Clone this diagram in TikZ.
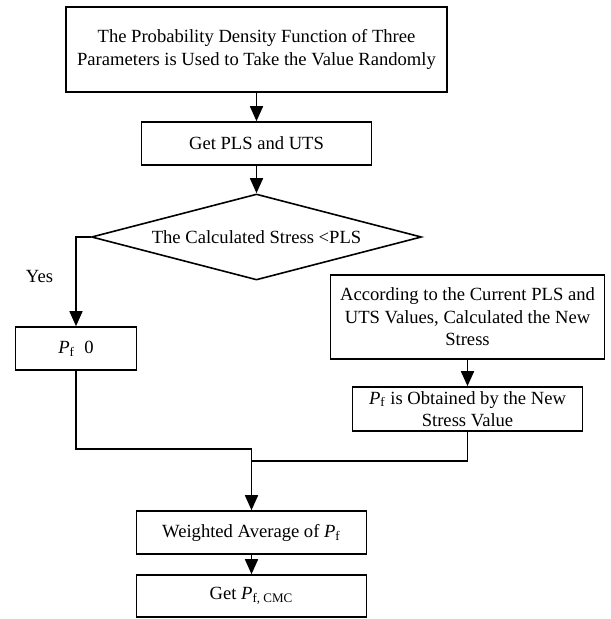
\documentclass[tikz,border=0pt]{standalone}
\usepackage{fontspec}
\setmainfont{Liberation Serif}
\usetikzlibrary{arrows.meta, shapes.geometric, positioning}

\newcommand{\pf}{\textit{P}\textsubscript{f}}

\begin{document}
\begin{tikzpicture}[on grid, line width=0.8pt, font=\fontsize{9.3}{11.3}\selectfont,
    >={Triangle[width=6.5pt,length=7.5pt]},
    box/.style={rectangle, draw, inner sep=2pt, align=center},
    decision/.style={diamond, draw, aspect=3.8, inner sep=0pt, minimum width=165pt, minimum height=43pt}]

        \useasboundingbox (0,0) rectangle (305pt,-309.5pt);

        \node[box, minimum width=190.5pt, minimum height=42.5pt] (rand) at (128.25pt,-24.75pt) {The Probability Density Function of Three\\
                    Parameters is Used to Take the Value Randomly};

        \node[box, minimum width=115pt, minimum height=21.5pt, below=47pt of rand] (pls) {Get PLS and UTS};

        \node[decision, below=46.75pt of pls] (cmp) {The Calculated Stress <PLS};

        \node[box, minimum width=60.5pt, minimum height=21.5pt, below left=55.75pt and 90.25pt of cmp] (zero) {\pf\enspace 0};

        \node[above left=35.75pt and 18.25pt of zero] (yes) {Yes};

        \node[box, minimum width=137pt, minimum height=42pt, below right=40pt and 105.5pt of cmp] (stress) {According to the Current PLS and\\
                    UTS Values, Calculated the New\\
                    Stress};

        \node[box, minimum width=115pt, minimum height=22pt, below=46pt of stress] (newpf) {\pf\ is Obtained by the New\\
                    Stress Value};

        \node[box, minimum width=115pt, minimum height=21.5pt, below=147.75pt of cmp, xshift=-2.5pt] (avg) {Weighted Average of \pf};

        \node[box, minimum width=115pt, minimum height=21pt, below=31.75pt of avg] (cmc) {Get \textit{P}\textsubscript{f, CMC}};

        \coordinate[above=30.5pt of avg.north] (joinl);
        \coordinate[below=6pt of joinl] (joinr);

        \path[->]
        (rand) edge[] (pls)
        (pls) edge[] (cmp)
        (stress) edge[] (newpf)
        (joinl) edge[] (avg)
        (avg) edge[] (cmc);

        \draw[->] (cmp.west) -| (zero.north);
        \draw (zero.south) |- (joinl);
        \draw (newpf.south) |- (joinr);

    \end{tikzpicture}
\end{document}
